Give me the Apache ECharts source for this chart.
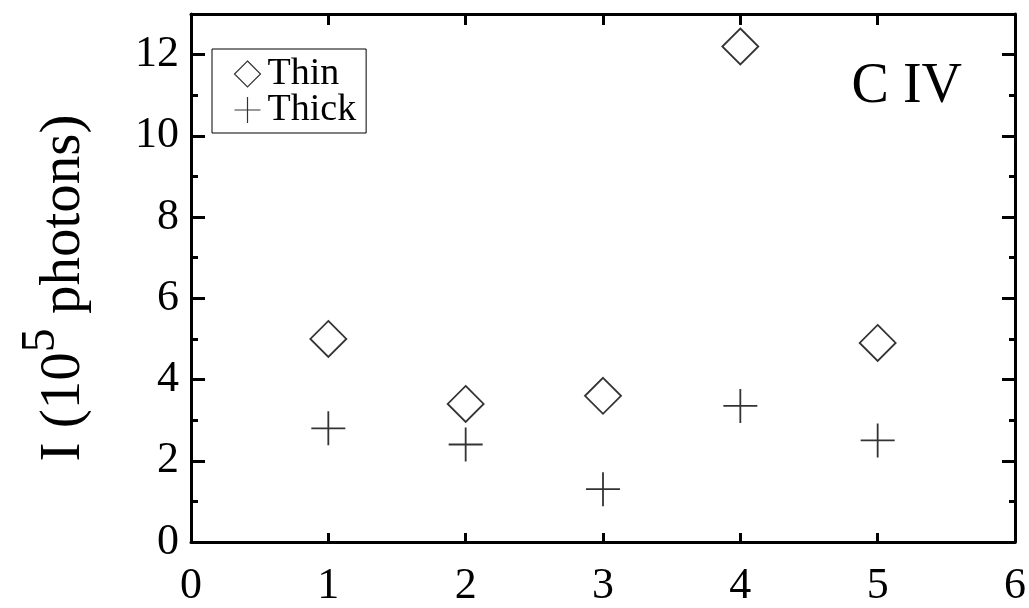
<!DOCTYPE html>
<html><head><meta charset="utf-8">
<script src="https://cdn.jsdelivr.net/npm/echarts@6/dist/echarts.min.js"></script>
<style>html,body{margin:0;padding:0;background:#fff}#c{width:1029px;height:608px}</style>
</head><body><div id="c"></div>
<script>
const categories = [1, 2, 3, 4, 5];
const thinValues = [5.0, 3.4, 3.6, 12.2, 4.9];
const thickValues = [2.8, 2.4, 1.3, 3.35, 2.5];
const xTicks = [0, 1, 2, 3, 4, 5, 6];
const yTicks = [0, 2, 4, 6, 8, 10, 12];

const F = '"Liberation Serif", "Times New Roman", serif';
const plusPath = 'path://M0,-10 L0,10 M-10,0 L10,0';
const diamondPath = 'path://M0,-10 L10,0 L0,10 L-10,0 Z';
const chart = echarts.init(document.getElementById('c'));
const axisLine = {show: true, onZero: false, lineStyle: {color: '#000', width: 3}};
chart.setOption({
  animation: false,
  backgroundColor: '#fff',
  grid: {left: 191, right: 14, top: 14, bottom: 66, containLabel: false},
  title: {text: 'C IV', right: 62, top: 54, textStyle: {fontFamily: F, fontSize: 56, fontWeight: 'normal', color: '#000'}},
  legend: {
    orient: 'vertical', left: 212, top: 49, padding: [6, 10, 4, 20],
    borderColor: '#000', borderWidth: 1, itemGap: -2,
    itemWidth: 26, itemHeight: 26,
    textStyle: {fontFamily: F, fontSize: 38, color: '#000', padding: [0, 0, 0, 2]},
    data: [
      {name: 'Thin', icon: diamondPath, itemStyle: {color: '#fff', borderColor: '#000', borderWidth: 1.2}},
      {name: 'Thick', icon: plusPath, itemStyle: {color: 'none', borderColor: '#000', borderWidth: 1.2}}
    ]
  },
  xAxis: [{
    type: 'value', min: xTicks[0], max: xTicks[xTicks.length - 1], interval: 1,
    axisLine: axisLine, splitLine: {show: false},
    axisTick: {show: true, inside: true, length: 9, lineStyle: {color: '#000', width: 3}},
    axisLabel: {fontFamily: F, fontSize: 44, color: '#000', margin: 22}
  }, {
    type: 'value', position: 'top', min: xTicks[0], max: xTicks[xTicks.length - 1], interval: 1,
    axisLine: axisLine, splitLine: {show: false},
    axisTick: {show: true, inside: true, length: 11, lineStyle: {color: '#000', width: 3}},
    axisLabel: {show: false}
  }],
  yAxis: [{
    type: 'value', min: 0, max: 13, interval: 2,
    axisLine: axisLine, splitLine: {show: false},
    axisTick: {show: true, inside: true, length: 14, lineStyle: {color: '#000', width: 3}},
    minorTick: {show: true, splitNumber: 2, length: 7, lineStyle: {color: '#000', width: 3}},
    axisLabel: {fontFamily: F, fontSize: 44, color: '#000', margin: 12, showMaxLabel: false,
      formatter: v => yTicks.indexOf(v) >= 0 ? String(v) : ''},
    name: '{a|I (10}{s|5}{a| photons)}', nameLocation: 'middle', nameGap: 98, nameRotate: 90,
    nameTextStyle: {padding: [0, 20, 0, 0], rich: {
      a: {fontFamily: F, fontSize: 57, color: '#000', lineHeight: 76, verticalAlign: 'bottom'},
      s: {fontFamily: F, fontSize: 48, color: '#000', lineHeight: 48, verticalAlign: 'top'}
    }}
  }, {
    type: 'value', position: 'right', min: 0, max: 13, interval: 2,
    axisLine: axisLine, splitLine: {show: false},
    axisTick: {show: true, inside: true, length: 13, lineStyle: {color: '#000', width: 3}},
    minorTick: {show: true, splitNumber: 2, length: 6, lineStyle: {color: '#000', width: 3}},
    axisLabel: {show: false}
  }],
  series: [{
    name: 'Thin', type: 'scatter', symbol: diamondPath, symbolSize: 36,
    itemStyle: {color: '#fff', borderColor: '#000', borderWidth: 1.8},
    data: categories.map((c, i) => [c, thinValues[i]])
  }, {
    name: 'Thick', type: 'scatter', symbol: plusPath, symbolSize: 34,
    itemStyle: {color: 'none', borderColor: '#000', borderWidth: 1.8},
    data: categories.map((c, i) => [c, thickValues[i]])
  }]
});
</script></body></html>
